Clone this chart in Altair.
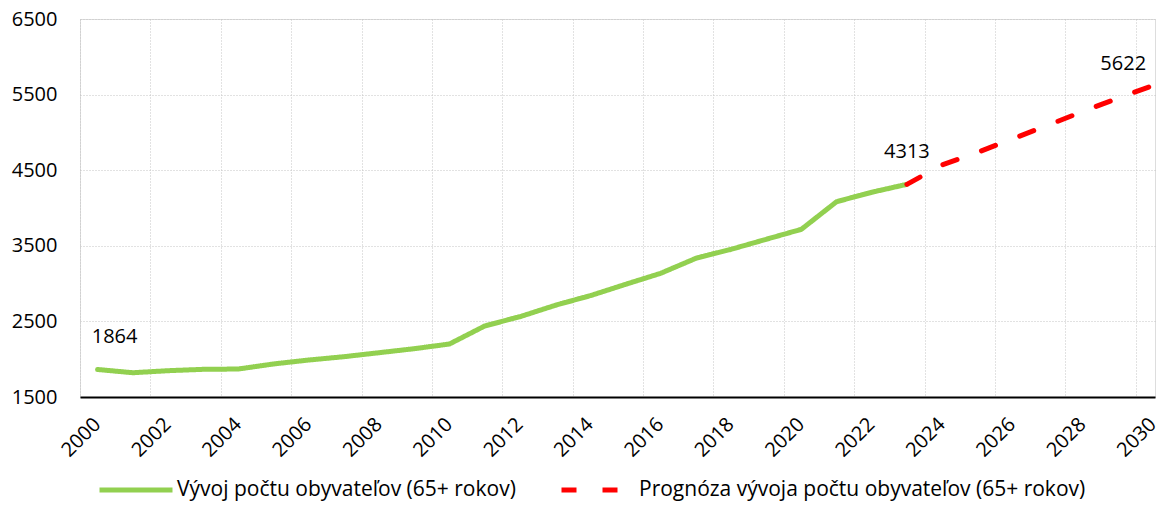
import altair as alt
import pandas as pd

# ---- data ----
hist_label = "Vývoj počtu obyvateľov (65+ rokov)"
fc_label = "Prognóza vývoja počtu obyvateľov (65+ rokov)"

hist_years = list(range(2000, 2024))
hist_values = [1864, 1821, 1848, 1866, 1870, 1937, 1989, 2033, 2086, 2139,
               2201, 2439, 2562, 2712, 2840, 2990, 3136, 3334, 3453, 3586,
               3718, 4083, 4208, 4313]

fc_years = list(range(2023, 2031))
fc_values = [4313, 4569, 4735, 4915, 5094, 5277, 5452, 5622]

label_years = [2000, 2023, 2030]
label_values = [1864, 4313, 5622]

y_ticks = [1500, 2500, 3500, 4500, 5500, 6500]
grid_years = [y - 0.5 for y in range(2000, 2031)]  # category boundaries

GREEN = "#92d050"
RED = "#ff0000"
FONT = "Open Sans"
GRID = "#c4c4c4"

df = pd.DataFrame(
    {"year": hist_years + fc_years,
     "value": hist_values + fc_values,
     "series": [hist_label] * len(hist_years) + [fc_label] * len(fc_years)}
)
labels_df = pd.DataFrame({"year": label_years, "value": label_values,
                          "txt": [str(v) for v in label_values]})

x_scale = alt.Scale(domain=[1999.5, 2030.05], nice=False, zero=False)
y_scale = alt.Scale(domain=[1500, 6500], nice=False, zero=False)

x_axis = alt.Axis(
    values=grid_years,
    labelExpr="(datum.value + 0.5) % 2 == 0 ? toString(datum.value + 0.5) : ''",
    labelOffset=17.0,
    labelAngle=-45,
    labelAlign="right",
    labelBaseline="middle",
    labelPadding=24,
    labelFontSize=20,
    labelFont=FONT,
    labelColor="#000000",
    labelFlush=False,
    labelOverlap=False,
    labelBound=False,
    ticks=False,
    domain=True,
    domainColor="#000000",
    domainWidth=2,
    grid=True,
    gridColor=GRID,
    gridDash=[1, 2],
    gridWidth=1,
    title=None,
)
y_axis = alt.Axis(
    values=y_ticks,
    format="d",
    labelFontSize=20,
    labelFont=FONT,
    labelColor="#000000",
    labelPadding=23,
    ticks=False,
    domain=False,
    grid=True,
    gridColor=GRID,
    gridDash=[1, 2],
    gridWidth=1,
    title=None,
)

legend = alt.Legend(
    title=None,
    orient="none",
    legendX=17,
    legendY=432,
    direction="horizontal",
    columns=2,
    symbolType="stroke",
    symbolSize=5329,
    symbolStrokeWidth=5,
    labelFontSize=21,
    labelFont=FONT,
    labelColor="#000000",
    labelOffset=2,
    labelLimit=1000,
    columnPadding=35,
    padding=0,
)

lines = alt.Chart(df).mark_line(strokeWidth=5, strokeCap="round", strokeJoin="round").encode(
    x=alt.X("year:Q", scale=x_scale, axis=x_axis),
    y=alt.Y("value:Q", scale=y_scale, axis=y_axis),
    color=alt.Color("series:N",
                    scale=alt.Scale(domain=[hist_label, fc_label], range=[GREEN, RED]),
                    legend=legend),
    strokeDash=alt.StrokeDash("series:N",
                              scale=alt.Scale(domain=[hist_label, fc_label],
                                              range=[[1, 0], [15, 26]]),
                              legend=legend),
    order="year:Q",
)

def label_layer(year, dx, dy):
    return alt.Chart(labels_df).transform_filter(
        alt.datum.year == year
    ).mark_text(fontSize=20, font=FONT, color="#000000", dx=dx, dy=dy,
                align="center", baseline="middle").encode(
        x=alt.X("year:Q", scale=x_scale),
        y=alt.Y("value:Q", scale=y_scale),
        text="txt:N",
    )

chart = alt.layer(
    lines,
    label_layer(2000, 17, -32),
    label_layer(2023, 0, -32),
    label_layer(2030, -30, -21),
).properties(
    width=1075,
    height=378,
    autosize="none",
    padding={"left": 72, "top": 11, "right": 4, "bottom": 106},
).configure_view(stroke=None).configure(font=FONT)

chart.save("out.html", embed_options={"renderer": "svg", "actions": False})
